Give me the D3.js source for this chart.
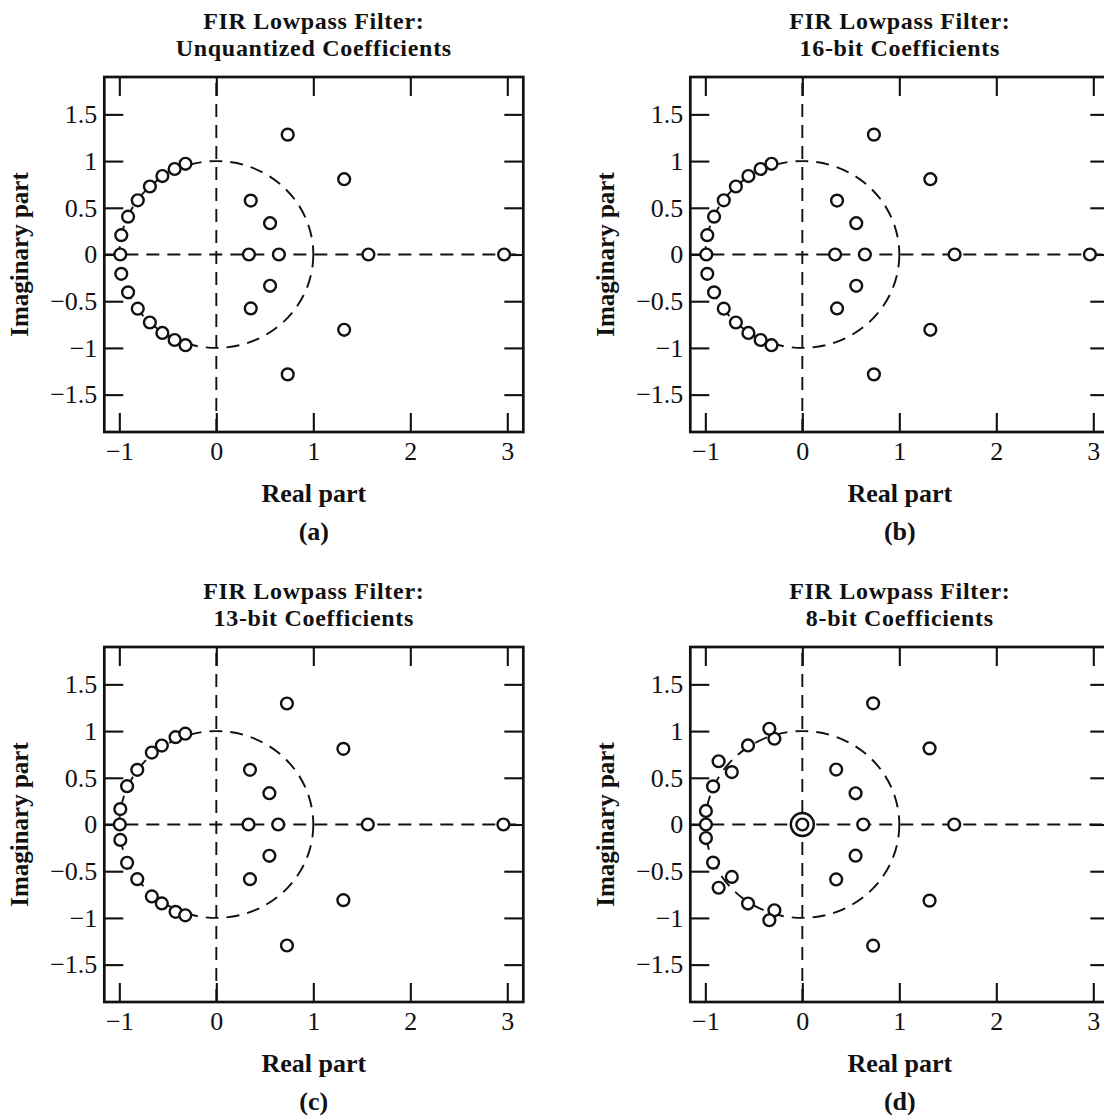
<!DOCTYPE html>
<html>
<head>
<meta charset="utf-8">
<script src="https://cdn.jsdelivr.net/npm/d3@7"></script>
<style>
  html, body { margin: 0; padding: 0; background: #fff; }
  svg { display: block; }
  text { font-family: "Liberation Serif", "Times New Roman", serif; fill: #111; }
</style>
</head>
<body>
<svg id="chart" width="1104" height="1116"></svg>
<script>
// ---------------- data ----------------
const titleLine1 = "FIR Lowpass Filter:";
const panelTitles = ["Unquantized Coefficients", "16-bit Coefficients", "13-bit Coefficients", "8-bit Coefficients"];
const panelLetters = ["(a)", "(b)", "(c)", "(d)"];
const xLabel = "Real part";
const yLabel = "Imaginary part";

const xTicks = [-1, 0, 1, 2, 3];
const xTickLabels = ["\u22121", "0", "1", "2", "3"];
const yTicks = [1.5, 1, 0.5, 0, -0.5, -1, -1.5];
const yTickLabels = ["1.5", "1", "0.5", "0", "\u22120.5", "\u22121", "\u22121.5"];

// zeros [real, imag]
const zerosUnquantized = [
  [-0.99, 0], [-0.98, 0.207], [-0.91, 0.405], [-0.81, 0.58], [-0.685, 0.728], [-0.556, 0.84], [-0.43, 0.915], [-0.318, 0.971],
  [-0.98, -0.207], [-0.91, -0.405], [-0.81, -0.58], [-0.685, -0.728], [-0.556, -0.84], [-0.43, -0.915], [-0.318, -0.971],
  [0.736, 1.283], [1.318, 0.806], [0.355, 0.577], [0.554, 0.335], [0.336, 0], [0.645, 0], [1.568, 0], [2.967, 0],
  [0.554, -0.335], [0.355, -0.577], [1.318, -0.806], [0.736, -1.283]
];
const zeros16bit = [
  [-0.99, 0], [-0.98, 0.207], [-0.91, 0.405], [-0.81, 0.58], [-0.685, 0.728], [-0.556, 0.84], [-0.43, 0.915], [-0.318, 0.971],
  [-0.98, -0.207], [-0.91, -0.405], [-0.81, -0.58], [-0.685, -0.728], [-0.556, -0.84], [-0.43, -0.915], [-0.318, -0.971],
  [0.738, 1.283], [1.32, 0.806], [0.358, 0.577], [0.556, 0.335], [0.338, 0], [0.645, 0], [1.57, 0], [2.965, 0],
  [0.556, -0.335], [0.358, -0.577], [1.32, -0.806], [0.738, -1.283]
];
const zeros13bit = [
  [-0.995, 0], [-0.99, 0.165], [-0.92, 0.41], [-0.815, 0.585], [-0.665, 0.77], [-0.562, 0.845], [-0.42, 0.935], [-0.32, 0.972],
  [-0.99, -0.165], [-0.92, -0.41], [-0.815, -0.585], [-0.665, -0.77], [-0.562, -0.845], [-0.42, -0.935], [-0.32, -0.972],
  [0.728, 1.295], [1.31, 0.81], [0.347, 0.585], [0.547, 0.335], [0.332, 0], [0.638, 0], [1.562, 0], [2.96, 0],
  [0.547, -0.335], [0.347, -0.585], [1.31, -0.81], [0.728, -1.295]
];
const zeros8bit = [
  [-0.994, 0], [-0.994, 0.145], [-0.92, 0.408], [-0.727, 0.561], [-0.863, 0.677], [-0.56, 0.846], [-0.288, 0.918], [-0.34, 1.025],
  [-0.994, -0.145], [-0.92, -0.408], [-0.727, -0.561], [-0.863, -0.677], [-0.56, -0.846], [-0.288, -0.918], [-0.34, -1.025],
  [0.73, 1.297], [1.312, 0.815], [0.349, 0.588], [0.549, 0.334], [0.628, 0], [1.566, 0],
  [0.549, -0.334], [0.349, -0.588], [1.312, -0.815], [0.73, -1.297]
];
// multiple-order zeros: [real, imag, order]
const zeros8bitMultiple = [[0, 0, 2]];

const panelZeros = [zerosUnquantized, zeros16bit, zeros13bit, zeros8bit];
const panelMultiple = [[], [], [], zeros8bitMultiple];

// ---------------- layout ----------------
const svg = d3.select("#chart");
const panelOffsets = [[0, 0], [586, 0], [0, 570], [586, 570]];
const plot = { left: 104.3, right: 523.3, top: 77, bottom: 432 };
const x = d3.scaleLinear().domain([-1.155, 3.165]).range([plot.left, plot.right]);
const y = d3.scaleLinear().domain([-1.9, 1.9]).range([plot.bottom, plot.top]);
const cx = (plot.left + plot.right) / 2;
const ink = "#111";

panelOffsets.forEach((off, i) => {
  const g = svg.append("g").attr("transform", `translate(${off[0]},${off[1]})`);

  // titles
  g.append("text").attr("x", cx).attr("y", 28.5).attr("text-anchor", "middle")
    .attr("font-size", 24).attr("font-weight", "bold").attr("letter-spacing", "0.7px")
    .text(titleLine1);
  g.append("text").attr("x", cx).attr("y", 55.5).attr("text-anchor", "middle")
    .attr("font-size", 24).attr("font-weight", "bold").attr("letter-spacing", "0.7px")
    .text(panelTitles[i]);

  // reference dashed lines
  const dash = "13,8";
  g.append("line").attr("x1", x(x.domain()[0])).attr("x2", x(x.domain()[1]))
    .attr("y1", y(0)).attr("y2", y(0))
    .attr("stroke", ink).attr("stroke-width", 1.9).attr("stroke-dasharray", dash);
  g.append("line").attr("x1", x(0)).attr("x2", x(0))
    .attr("y1", y(y.domain()[0])).attr("y2", y(y.domain()[1]))
    .attr("stroke", ink).attr("stroke-width", 1.9).attr("stroke-dasharray", dash);
  g.append("ellipse").attr("cx", x(0)).attr("cy", y(0))
    .attr("rx", x(1) - x(0)).attr("ry", y(0) - y(1))
    .attr("fill", "none").attr("stroke", ink).attr("stroke-width", 1.9)
    .attr("stroke-dasharray", dash);

  // axes: ticks inward on all four sides
  const tickLen = 19;
  const bottom = g.append("g").attr("transform", `translate(0,${plot.bottom})`)
    .call(d3.axisBottom(x).tickValues(xTicks).tickSizeInner(-tickLen).tickSizeOuter(0).tickPadding(10)
      .tickFormat((d, k) => xTickLabels[k]));
  const top = g.append("g").attr("transform", `translate(0,${plot.top})`)
    .call(d3.axisTop(x).tickValues(xTicks).tickSizeInner(-tickLen).tickSizeOuter(0).tickFormat(""));
  const left = g.append("g").attr("transform", `translate(${plot.left},0)`)
    .call(d3.axisLeft(y).tickValues(yTicks).tickSizeInner(-tickLen).tickSizeOuter(0).tickPadding(7)
      .tickFormat((d, k) => yTickLabels[k]));
  const right = g.append("g").attr("transform", `translate(${plot.right},0)`)
    .call(d3.axisRight(y).tickValues(yTicks).tickSizeInner(-tickLen).tickSizeOuter(0).tickFormat(""));
  [bottom, top, left, right].forEach(a => {
    a.select(".domain").remove();
    a.selectAll(".tick line").attr("stroke", ink).attr("stroke-width", 2.1);
    a.selectAll(".tick text").attr("font-size", 26).attr("fill", ink)
      .attr("font-family", "'Liberation Serif', 'Times New Roman', serif");
  });

  // frame
  g.append("rect").attr("x", plot.left).attr("y", plot.top)
    .attr("width", plot.right - plot.left).attr("height", plot.bottom - plot.top)
    .attr("fill", "none").attr("stroke", ink).attr("stroke-width", 2.7);

  // zeros
  g.append("g").selectAll("circle").data(panelZeros[i]).join("circle")
    .attr("cx", d => x(d[0])).attr("cy", d => y(d[1])).attr("r", 5.9)
    .attr("fill", "#fff").attr("stroke", ink).attr("stroke-width", 2.4);
  const multi = g.append("g").selectAll("g").data(panelMultiple[i]).join("g");
  multi.append("circle").attr("cx", d => x(d[0])).attr("cy", d => y(d[1])).attr("r", 11.5)
    .attr("fill", "#fff").attr("stroke", ink).attr("stroke-width", 2.4);
  multi.append("circle").attr("cx", d => x(d[0])).attr("cy", d => y(d[1])).attr("r", 5.9)
    .attr("fill", "#fff").attr("stroke", ink).attr("stroke-width", 2.4);

  // axis labels
  g.append("text").attr("x", cx).attr("y", 502).attr("text-anchor", "middle")
    .attr("font-size", 26).attr("font-weight", "bold").text(xLabel);
  g.append("text").attr("transform", `translate(28,${y(0)}) rotate(-90)`).attr("text-anchor", "middle")
    .attr("font-size", 25).attr("font-weight", "bold").text(yLabel);
  g.append("text").attr("x", cx).attr("y", 540).attr("text-anchor", "middle")
    .attr("font-size", 26).attr("font-weight", "bold").text(panelLetters[i]);
});
</script>
</body>
</html>
